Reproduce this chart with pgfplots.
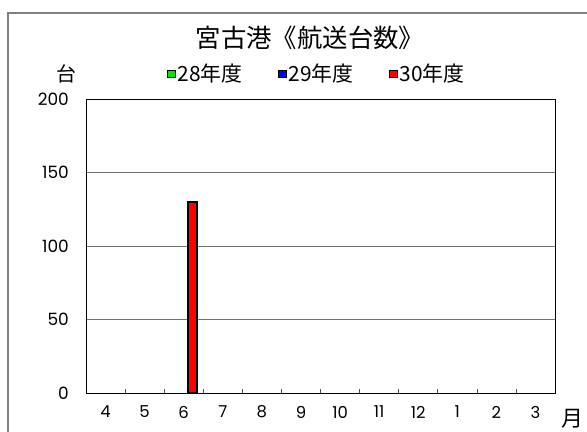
\documentclass[border=0pt]{standalone}
\usepackage{pgfplots}
\pgfplotsset{compat=1.18}
\usepackage{fontspec}
\setmainfont{Noto Sans CJK JP}
\newfontfamily\num{Poppins}
\begin{document}
\begin{tikzpicture}
\useasboundingbox (0,0) rectangle (587bp,-432bp);
\fill[white] (0,0) rectangle (587bp,-432bp);
\draw[black!50, line width=1.2bp] (8bp,-432bp) -- (8bp,-13bp) -- (587bp,-13bp);
\node[font=\fontsize{25.5}{25.5}\selectfont] at (310bp,-38bp) {宮古港《航送台数》};
\node[font=\fontsize{20}{20}\selectfont] at (66bp,-74bp) {台};
\node[font=\fontsize{22}{22}\selectfont] at (572bp,-419bp) {月};
\begin{axis}[
  at={(86bp,-393bp)}, anchor=south west,
  scale only axis, width=469bp, height=294bp,
  xmin=0.5, xmax=12.5, ymin=0, ymax=200,
  ytick={0,50,100,150,200},
  ymajorgrids, major grid style={black!55, line width=0.6bp},
  axis line style={black, line width=0.8bp},
  xtick={1,...,12},
  xticklabels={4,5,6,7,8,9,10,11,12,1,2,3},
  minor xtick={1.5,2.5,...,11.5},
  major tick length=0pt, minor tick length=4bp, tick align=inside,
  minor tick style={black!70, line width=0.6bp},
  xtick pos=bottom, ytick pos=left,
  /pgf/number format/assume math mode=true,
  xticklabel style={font=\num\fontsize{16.5}{16.5}\selectfont, anchor=center, inner sep=0pt, yshift=-19bp},
  yticklabel style={font=\num\fontsize{17}{17}\selectfont, anchor=east, inner sep=0pt, xshift=-17bp},
  legend columns=3,
  legend style={at={(0.4915,1.0867)}, anchor=center, draw=none, fill=none,
    font=\fontsize{21}{21}\selectfont, nodes={inner sep=1.5bp},
    /tikz/every even column/.append style={column sep=34bp}},
]
\addlegendimage{legend image code/.code={\draw[fill={rgb,255:red,0;green,230;blue,0}, draw=black, line width=1bp] (0bp,-3.5bp) rectangle (8bp,3.5bp);}}
\addlegendimage{legend image code/.code={\draw[fill={rgb,255:red,0;green,0;blue,255}, draw=black, line width=1bp] (0bp,-3.5bp) rectangle (8bp,3.5bp);}}
\addplot[ybar, bar width=9bp, bar shift=9bp, fill=red, draw=black, line width=1.5bp,
  legend image code/.code={\draw[fill=red, draw=black, line width=1bp] (0bp,-3.5bp) rectangle (8bp,3.5bp);}]
  coordinates {(3,130)};
\legend{28年度,29年度,30年度}
\end{axis}
\end{tikzpicture}
\end{document}
